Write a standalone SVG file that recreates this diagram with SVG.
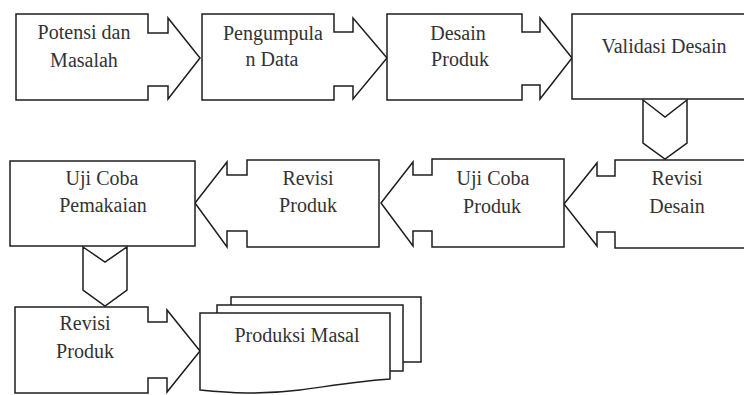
<svg xmlns="http://www.w3.org/2000/svg" width="744" height="395" viewBox="0 0 744 395">
<style>
.s{fill:#fff;stroke:#1e1e1e;stroke-width:1.5;stroke-linejoin:miter}
text{font-family:'Liberation Serif',serif;font-size:20px;fill:#333;text-anchor:middle}
</style>
<rect width="744" height="395" fill="#fff"/>
<g id="potensi">
<path class="s" d="M16,14 H148 V33 H168 V18 L200,58 L168,99 V86 H148 V100 H16 Z"/>
<text x="84" y="39" font-family="Liberation Serif">Potensi dan</text>
<text x="84" y="67" font-family="Liberation Serif">Masalah</text>
</g>
<g id="pengumpulan">
<path class="s" d="M202,14 H334 V32 H353 V18 L387,58 L353,99 V86 H334 V100 H202 Z"/>
<text x="273" y="40" font-family="Liberation Serif">Pengumpula</text>
<text x="272" y="66" font-family="Liberation Serif">n Data</text>
</g>
<g id="desain">
<path class="s" d="M387,14 H522 V32 H540 V18 L572,58 L540,99 V85 H522 V100 H387 Z"/>
<text x="458" y="40" font-family="Liberation Serif">Desain</text>
<text x="460" y="66" font-family="Liberation Serif">Produk</text>
</g>
<g id="validasi">
<path class="s" d="M750,14 H572 V99 H750"/>
<text x="664" y="53" font-family="Liberation Serif">Validasi Desain</text>
</g>
<g id="revisi-desain">
<path class="s" d="M750,160 H615 V176 H597 V163 L564,204 L597,246 V232 H615 V248 H750"/>
<text x="677" y="185" font-family="Liberation Serif">Revisi</text>
<text x="677" y="213" font-family="Liberation Serif">Desain</text>
</g>
<g id="uji-coba-produk">
<path class="s" d="M564,159 H432 V175 H413 V162 L381,203 L413,246 V231 H432 V247 H564 Z"/>
<text x="493" y="185" font-family="Liberation Serif">Uji Coba</text>
<text x="492" y="213" font-family="Liberation Serif">Produk</text>
</g>
<g id="revisi-produk-1">
<path class="s" d="M379,160 H247 V175 H227 V162 L195,203 L227,247 V231 H247 V247 H379 Z"/>
<text x="308" y="185" font-family="Liberation Serif">Revisi</text>
<text x="308" y="212" font-family="Liberation Serif">Produk</text>
</g>
<g id="uji-coba-pemakaian">
<rect class="s" x="10" y="161" width="185" height="85"/>
<text x="102" y="185" font-family="Liberation Serif">Uji Coba</text>
<text x="103" y="212" font-family="Liberation Serif">Pemakaian</text>
</g>
<g id="revisi-produk-2">
<path class="s" d="M15,307 H148 V322 H167 V310 L200,351 L167,392 V378 H148 V393 H15 Z"/>
<text x="85" y="330" font-family="Liberation Serif">Revisi</text>
<text x="85" y="358" font-family="Liberation Serif">Produk</text>
</g>
<g id="produksi-masal">
<rect class="s" x="231" y="297" width="190" height="65"/>
<rect class="s" x="217" y="305" width="186" height="66"/>
<path class="s" d="M200,313 H390 V379 C360,381 330,386 300,390 C260,395 230,393 200,390 Z"/>
<text x="297" y="342" font-family="Liberation Serif">Produksi Masal</text>
</g>
<g id="connectors">
<path class="s" d="M643,100 L665,117 L687,100 V143 L665,159 L643,143 Z"/>
<path class="s" d="M83,247 L105,262 L127,247 V290 L105,306 L83,290 Z"/>
</g>
</svg>
